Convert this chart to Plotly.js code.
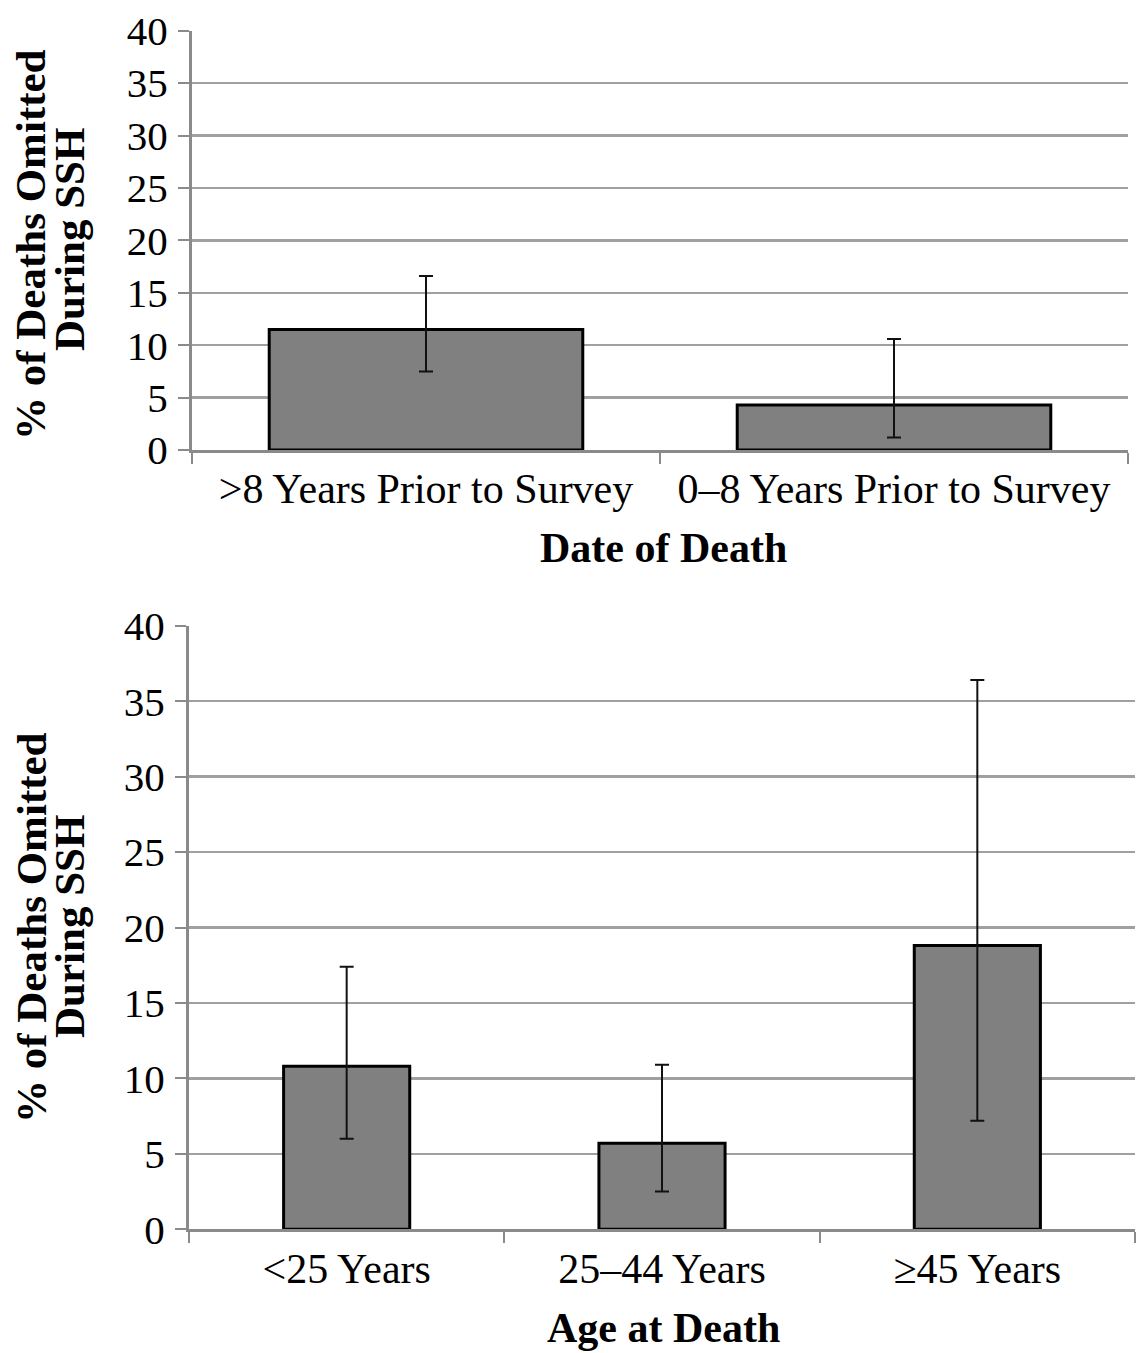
<!DOCTYPE html>
<html>
<head>
<meta charset="utf-8">
<script src="https://cdn.plot.ly/plotly-3.0.1.min.js"></script>
<style>html,body{margin:0;padding:0;background:#fff;}#chart{width:1139px;height:1353px;}</style>
</head>
<body>
<div id="chart"></div>
<script>
// Top panel: date of death
const dateCategories = [">8 Years Prior to Survey", "0\u20138 Years Prior to Survey"];
const dateValues = [11.5, 4.3];
const dateUpper = [16.6, 10.6];
const dateLower = [7.5, 1.2];

// Bottom panel: age at death
const ageCategories = ["<25 Years", "25\u201344 Years", "\u226545 Years"];
const ageValues = [10.8, 5.7, 18.8];
const ageUpper = [17.4, 10.9, 36.4];
const ageLower = [6.0, 2.5, 7.2];

const yTickValues = [0, 5, 10, 15, 20, 25, 30, 35, 40];

const yTitleLine1 = "% of Deaths Omitted";
const yTitleLine2 = "During SSH";
const xTitleTop = "Date of Death";
const xTitleBottom = "Age at Death";

const FONT = "'Liberation Serif', 'Times New Roman', serif";
const GRID = "#a0a0a0";
const AXIS = "#8a8a8a";

function errBar(vals, up, lo) {
  return {
    type: "data",
    symmetric: false,
    array: up.map((u, i) => u - vals[i]),
    arrayminus: lo.map((l, i) => vals[i] - l),
    color: "#111",
    thickness: 2,
    width: 7
  };
}

const traces = [
  {
    type: "bar", x: dateCategories, y: dateValues, xaxis: "x", yaxis: "y",
    width: 0.67,
    marker: {color: "#808080", line: {color: "#000", width: 3}},
    error_y: errBar(dateValues, dateUpper, dateLower),
    hoverinfo: "skip"
  },
  {
    type: "bar", x: ageCategories, y: ageValues, xaxis: "x2", yaxis: "y2",
    width: 0.40,
    marker: {color: "#808080", line: {color: "#000", width: 3}},
    error_y: errBar(ageValues, ageUpper, ageLower),
    hoverinfo: "skip"
  }
];

const W = 1139, H = 1353;
function xd(a, b) { return [a / W, b / W]; }
function yd(top, bottom) { return [(H - bottom) / H, (H - top) / H]; }

const xCommon = {
  type: "category",
  showline: true, linecolor: AXIS, linewidth: 3,
  ticks: "outside", tickson: "boundaries", ticklen: 11, tickcolor: AXIS, tickwidth: 2,
  showgrid: false, zeroline: false,
  tickfont: {family: FONT, size: 42, color: "#000"},
  automargin: false, fixedrange: true
};
const yCommon = {
  range: [0, 40], tickvals: yTickValues,
  showline: true, linecolor: AXIS, linewidth: 3,
  ticks: "outside", ticklen: 11, tickcolor: AXIS, tickwidth: 2,
  showgrid: true, gridcolor: GRID, gridwidth: 2.5,
  zeroline: false,
  tickfont: {family: FONT, size: 41, color: "#000"},
  ticklabelstandoff: 2,
  automargin: false, fixedrange: true
};

const layout = {
  width: W, height: H,
  margin: {l: 0, r: 0, t: 0, b: 0},
  paper_bgcolor: "#fff", plot_bgcolor: "#fff",
  showlegend: false,
  xaxis: Object.assign({}, xCommon, {domain: xd(192, 1128), range: [-0.5, 1.5], anchor: "y"}),
  yaxis: Object.assign({}, yCommon, {domain: yd(30.7, 450), anchor: "x"}),
  xaxis2: Object.assign({}, xCommon, {domain: xd(189, 1135), range: [-0.5, 2.5], anchor: "y2"}),
  yaxis2: Object.assign({}, yCommon, {domain: yd(625.7, 1229.3), anchor: "x2"}),
  annotations: [
    {text: "<b>" + xTitleTop + "</b>", xref: "paper", yref: "paper", x: 663.5 / W, y: (H - 548) / H,
     xanchor: "center", yanchor: "middle", showarrow: false, font: {family: FONT, size: 42, color: "#000"}},
    {text: "<b>" + xTitleBottom + "</b>", xref: "paper", yref: "paper", x: 663.5 / W, y: (H - 1328) / H,
     xanchor: "center", yanchor: "middle", showarrow: false, font: {family: FONT, size: 42, color: "#000"}},
    {text: "<b>" + yTitleLine1 + "</b>", xref: "paper", yref: "paper", x: 31 / W, y: (H - 245) / H,
     xanchor: "center", yanchor: "middle", textangle: -90, showarrow: false, font: {family: FONT, size: 43, color: "#000"}},
    {text: "<b>" + yTitleLine2 + "</b>", xref: "paper", yref: "paper", x: 70 / W, y: (H - 240) / H,
     xanchor: "center", yanchor: "middle", textangle: -90, showarrow: false, font: {family: FONT, size: 43, color: "#000"}},
    {text: "<b>" + yTitleLine1 + "</b>", xref: "paper", yref: "paper", x: 31 / W, y: (H - 928) / H,
     xanchor: "center", yanchor: "middle", textangle: -90, showarrow: false, font: {family: FONT, size: 43, color: "#000"}},
    {text: "<b>" + yTitleLine2 + "</b>", xref: "paper", yref: "paper", x: 70 / W, y: (H - 927) / H,
     xanchor: "center", yanchor: "middle", textangle: -90, showarrow: false, font: {family: FONT, size: 43, color: "#000"}}
  ]
};

Plotly.newPlot("chart", traces, layout, {staticPlot: true, displayModeBar: false});
</script>
</body>
</html>
